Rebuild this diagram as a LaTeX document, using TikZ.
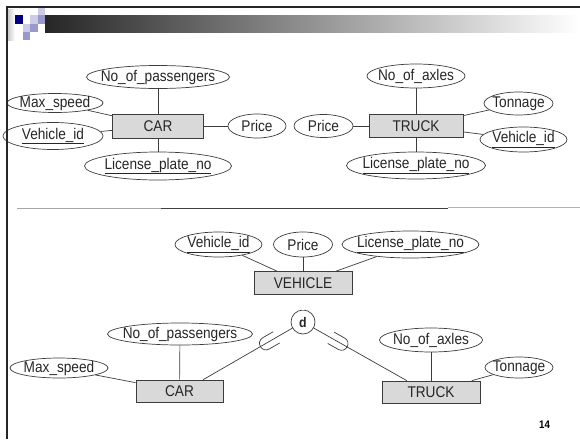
\documentclass[tikz,border=0pt]{standalone}
\usepackage{fontspec}
\setmainfont[FakeStretch=0.88]{Liberation Sans}
\usepackage{xcolor}
\usetikzlibrary{shapes.geometric,calc}
\definecolor{slidenavy}{RGB}{0,0,128}
\definecolor{slidelilac}{RGB}{204,204,230}
\definecolor{slidemauve}{RGB}{153,153,204}
\definecolor{erline}{RGB}{60,60,60}

\tikzset{
  attr/.style 2 args={draw=erline, ellipse, minimum width=#1pt, minimum height=#2pt, inner sep=0pt},
  entity/.style 2 args={draw=erline, fill=black!15, rectangle, minimum width=#1pt, minimum height=#2pt, inner sep=0pt},
}

\begin{document}
\begin{tikzpicture}[x=1pt, y=-1pt, font=\fontsize{15.5}{17}\selectfont, line width=0.7pt, draw=erline, text=black!85]
\useasboundingbox (0,0) rectangle (580,439);

% slide header
\shade[left color=black!85, right color=white] (45,15.3) rectangle (580,32);
\shade[left color=black!20, right color=white] (8,9) rectangle (15,40);
\foreach \c/\r/\col in {0/1/slidenavy, 2/1/slidelilac, 3/0/slidelilac, 1/2/slidelilac, 3/1/slidemauve, 2/2/slidemauve, 1/3/slidemauve}
    \fill[\col] (15+7.5*\c, 7+8.3*\r) rectangle ++(7.5,8.3);

% separator
\draw[gray!70] (17,208) -- (161,208);
\draw[black!75] (161,208) -- (448,208);
\draw[gray!60] (448,207.5) -- (580,207.5);

% CAR (top left)
\node[attr={143}{23}, label=center:{No\_of\_passengers}] (npass1) at (158,77) {};
\node[attr={96}{19}, label=center:{Max\_speed}] (maxsp1) at (55,103) {};
\node[attr={100}{27}, label=center:{\underline{Vehicle\_id}}] (vid1) at (53,136) {};
\node[entity={91}{24}] (car1) at (158,126) {CAR};
\node[attr={58}{24}, label=center:{Price}] (price1) at (257,126) {};
\node[attr={147}{28}, label=center:{\underline{License\_plate\_no}}] (lic1) at (158,166) {};
\draw (npass1) -- (car1);
\draw (maxsp1) -- (car1);
\draw (vid1) -- (car1);
\draw (car1) -- (price1);
\draw (car1) -- (lic1);

% TRUCK (top right)
\node[attr={98}{24}, label=center:{No\_of\_axles}] (naxle1) at (416,76) {};
\node[attr={69}{23}, label=center:{Tonnage}] (ton1) at (518.5,103.5) {};
\node[attr={59}{23}, label=center:{Price}] (price2) at (323.5,126) {};
\node[entity={94}{23}] (truck1) at (416,126) {TRUCK};
\node[attr={87}{25}, label=center:{\underline{Vehicle\_id}}] (vid2) at (523.5,139.5) {};
\node[attr={139}{27}, label=center:{\underline{License\_plate\_no}}] (lic2) at (416,165.5) {};
\draw (naxle1) -- (truck1);
\draw (ton1) -- (truck1);
\draw (price2) -- (truck1);
\draw (vid2) -- (truck1);
\draw (truck1) -- (lic2);

% VEHICLE with disjoint specialization
\node[attr={87}{25}, label=center:{\underline{Vehicle\_id}}] (vid3) at (218.5,244.5) {};
\node[attr={59}{25}, label=center:{Price}] (price3) at (303,244.5) {};
\node[attr={137}{27}, label=center:{\underline{License\_plate\_no}}] (lic3) at (410.5,244.5) {};
\node[entity={98}{23}] (vehicle) at (303,283) {VEHICLE};
\node[draw=erline, fill=white, circle, minimum size=24pt, inner sep=0pt, font=\bfseries\fontsize{14}{15}\selectfont] (disj) at (303,322) {d};
\draw (vid3) -- (vehicle);
\draw (price3) -- (vehicle);
\draw (lic3) -- (vehicle);
\draw[double, double distance=1.5pt] (vehicle) -- (disj);

\node[attr={145}{22}, label=center:{No\_of\_passengers}] (npass2) at (180,334) {};
\node[attr={98}{20}, label=center:{Max\_speed}] (maxsp2) at (59,368) {};
\node[entity={87}{22}] (car2) at (179.5,391) {CAR};
\draw (npass2) -- (car2);
\draw (maxsp2) -- (car2);

\node[attr={103}{24}, label=center:{No\_of\_axles}] (naxle2) at (431,340) {};
\node[attr={68}{21}, label=center:{Tonnage}] (ton2) at (519,367.5) {};
\node[entity={98}{22}] (truck2) at (431,392) {TRUCK};
\draw (naxle2) -- (truck2);
\draw (ton2) -- (truck2);

\coordinate (carlink) at ($(car2.north west)!0.77!(car2.north east)$);
\coordinate (trucklink) at ($(truck2.north west)!0.255!(truck2.north east)$);
\draw (disj) -- (carlink);
\draw (disj) -- (trucklink);

% subset marks
\foreach \sub in {carlink, trucklink} {
    \coordinate (cup) at ($(disj)!0.37!(\sub)$);
    \coordinate (cupa) at ($(cup)!12pt!(disj)$);
    \coordinate (cupb) at ($(cup)!8.7pt!(\sub)$);
    \draw ($(cupa)!6.5pt!90:(disj)$) -- ($(cup)!6.5pt!90:(disj)$)
        .. controls ($(cupb)!6.5pt!90:(disj)$) and ($(cupb)!6.5pt!-90:(disj)$) .. ($(cup)!6.5pt!-90:(disj)$)
        -- ($(cupa)!6.5pt!-90:(disj)$);
}

\node[font=\bfseries\fontsize{11}{12}\selectfont, text=black] (pagenum) at (544.5,424.5) {14};

% slide frame
\draw[line width=2pt, black!85] (7,439) -- (7,7) -- (580,7);
\end{tikzpicture}
\end{document}
